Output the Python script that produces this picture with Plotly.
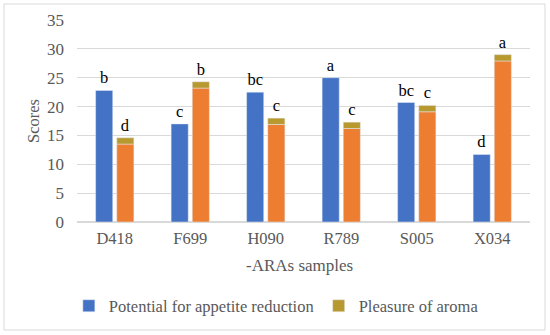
import plotly.graph_objects as go

categories = ["D418", "F699", "H090", "R789", "S005", "X034"]
appetite = [22.8, 17.0, 22.5, 25.0, 20.7, 11.7]
aroma = [14.6, 24.3, 18.0, 17.3, 20.2, 29.0]
appetite_letters = ["b", "c", "bc", "a", "bc", "d"]
aroma_letters = ["d", "b", "c", "c", "c", "a"]
cap = 1.1

FONT = "Liberation Serif"
BLUE = "#4472C4"
ORANGE = "#ED7D31"
OLIVE = "#B8992F"
TXT = "#595959"

fig = go.Figure()
fig.add_trace(go.Bar(
    x=categories, y=appetite, name="Potential for appetite reduction",
    marker_color=BLUE, offsetgroup="a",
    text=appetite_letters, textposition="outside", cliponaxis=False,
    textfont=dict(family=FONT, size=16.5, color="black"),
))
fig.add_trace(go.Bar(
    x=categories, y=[v - cap for v in aroma], name="aroma body",
    marker_color=ORANGE, offsetgroup="b", showlegend=False,
))
fig.add_trace(go.Bar(
    x=categories, y=[cap] * len(aroma), base=[v - cap for v in aroma],
    name="Pleasure of aroma", marker_color=OLIVE, offsetgroup="b",
    text=aroma_letters, textposition="outside", cliponaxis=False,
    textfont=dict(family=FONT, size=16.5, color="black"),
))

fig.update_layout(
    width=550, height=335,
    margin=dict(l=77, r=20, t=20, b=113),
    paper_bgcolor="white", plot_bgcolor="white",
    font=dict(family=FONT, size=16.5, color=TXT),
    barmode="group", bargap=0.44, bargroupgap=0.19,
    showlegend=True,
    legend=dict(orientation="h", x=-0.018, y=-0.416, xanchor="left", yanchor="middle",
                font=dict(family=FONT, size=16.5, color=TXT),
                traceorder="normal"),
    yaxis=dict(range=[0, 35], dtick=5, showgrid=True, gridcolor="#D9D9D9",
               zeroline=True, zerolinecolor="#D9D9D9", showline=False,
               ticklabelstandoff=12, tickfont=dict(size=17)),
    xaxis=dict(showgrid=False, showline=False, ticklabelstandoff=4,
               tickfont=dict(size=16.5)),
)
fig.add_annotation(text="Scores", xref="paper", yref="paper",
                   x=(33 - 77) / 453, y=(222 - 121) / 202, textangle=-90,
                   xanchor="center", yanchor="middle",
                   showarrow=False, font=dict(family=FONT, size=16.5, color=TXT))
fig.add_annotation(text="-ARAs samples", xref="paper", yref="paper",
                   x=(299 - 77) / 453, y=(222 - 265) / 202,
                   xanchor="center", yanchor="middle",
                   showarrow=False, font=dict(family=FONT, size=17, color=TXT))
fig.add_shape(type="rect", xref="paper", yref="paper",
              x0=(4 - 77) / 453, x1=(545 - 77) / 453,
              y0=(222 - 330) / 202, y1=(222 - 4) / 202,
              line=dict(color="#D9D9D9", width=1))

fig.write_html("out.html", config={"displayModeBar": False},
               post_script="document.body.style.margin='0';")
